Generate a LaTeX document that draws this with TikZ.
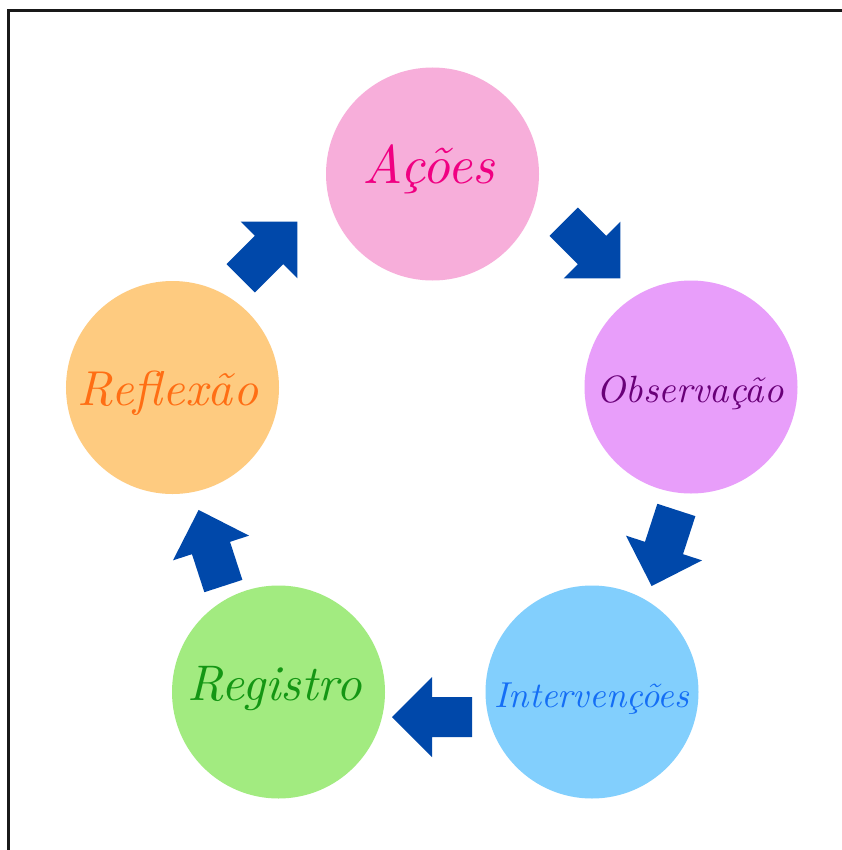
\documentclass[tikz,border=0pt]{standalone}
\usepackage{graphicx}
\definecolor{arrowblue}{RGB}{0,72,170}
\definecolor{acoesFill}{RGB}{247,174,218}
\definecolor{obsFill}{RGB}{232,158,250}
\definecolor{intFill}{RGB}{130,207,253}
\definecolor{regFill}{RGB}{162,235,128}
\definecolor{refFill}{RGB}{254,203,128}
\definecolor{acoesTxt}{RGB}{240,0,130}
\definecolor{obsTxt}{RGB}{105,0,120}
\definecolor{intTxt}{RGB}{20,110,245}
\definecolor{regTxt}{RGB}{20,150,20}
\definecolor{refTxt}{RGB}{255,110,20}
\tikzset{
  stage/.style={circle, minimum size=213bp, inner sep=0pt, draw=none},
  lbl/.style={anchor=base, inner sep=0pt, font=\itshape},
  barrow/.pic={\fill[arrowblue] (-40,-20) -- (0,-20) -- (0,-40) -- (40,0) -- (0,40) -- (0,20) -- (-40,20) -- cycle;}
}
\begin{document}
\begin{tikzpicture}[x=1bp,y=-1bp]
\useasboundingbox (0,0) rectangle (842,850);
\fill[white] (0,0) rectangle (842,850);
\draw[line width=2.5bp, black!90] (8.5,850) -- (8.5,10.5) -- (842,10.5);

\node[stage, fill=acoesFill] (acoes) at (432.5,174) {};
\node[stage, fill=obsFill] (obs) at (691,387) {};
\node[stage, fill=intFill] (int) at (592,692) {};
\node[stage, fill=regFill] (reg) at (278.5,692) {};
\node[stage, fill=refFill] (ref) at (172.5,387.5) {};

\node[lbl, text=acoesTxt] (tacoes) at (429,183) {\resizebox{132bp}{!}{Ações}};
\node[lbl, text=obsTxt] (tobs) at (690,402) {\resizebox{187bp}{!}{Observação}};
\node[lbl, text=intTxt] (tint) at (592,707) {\resizebox{194bp}{!}{Intervenções}};
\node[lbl, text=regTxt] (treg) at (275,700) {\resizebox{174bp}{!}{Registro}};
\node[lbl, text=refTxt] (tref) at (168,405) {\resizebox{180bp}{!}{Reflexão}};

\pic[rotate=-45] at (592,250) {barrow};
\pic[rotate=-108] at (664,548) {barrow};
\pic[rotate=180] at (432,717) {barrow};
\pic[rotate=108] at (211,548) {barrow};
\pic[rotate=45] at (269,250) {barrow};
\end{tikzpicture}
\end{document}
